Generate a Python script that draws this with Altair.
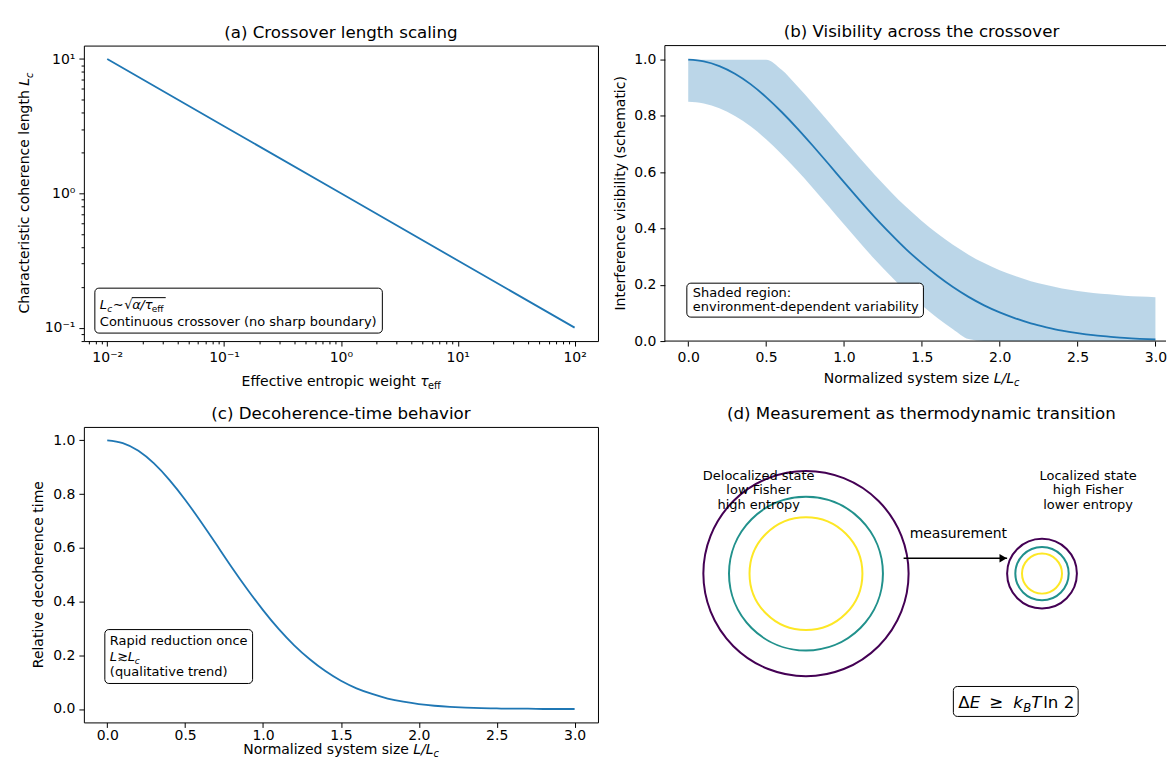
import altair as alt
import pandas as pd

FONT = "DejaVu Sans"
BLUE = "#1f77b4"
VIRIDIS3 = ["#440154", "#21918c", "#fde725"]

# ---------------- data ----------------
# (a) crossover length scaling (log-log)
tau_eff = [0.01, 0.1, 1.0, 10.0, 100.0]
coherence_length = [10.0, 3.162, 1.0, 0.3162, 0.1]
tau_major = [0.01, 0.1, 1.0, 10.0, 100.0]
tau_labels = ["10⁻²", "10⁻¹", "10⁰", "10¹", "10²"]
tau_minor = [0.007, 0.008, 0.009,
             0.02, 0.03, 0.04, 0.05, 0.06, 0.07, 0.08, 0.09,
             0.2, 0.3, 0.4, 0.5, 0.6, 0.7, 0.8, 0.9,
             2.0, 3.0, 4.0, 5.0, 6.0, 7.0, 8.0, 9.0,
             20.0, 30.0, 40.0, 50.0, 60.0, 70.0, 80.0, 90.0]
lc_major = [0.1, 1.0, 10.0]
lc_labels = ["10⁻¹", "10⁰", "10¹"]
lc_minor = [0.08, 0.09,
            0.2, 0.3, 0.4, 0.5, 0.6, 0.7, 0.8, 0.9,
            2.0, 3.0, 4.0, 5.0, 6.0, 7.0, 8.0, 9.0]

# (b), (c) normalized system size L/Lc
system_size = [0.0, 0.1, 0.2, 0.3, 0.4, 0.5, 0.6, 0.7, 0.8, 0.9, 1.0,
               1.1, 1.2, 1.3, 1.4, 1.5, 1.6, 1.7, 1.8, 1.9, 2.0,
               2.1, 2.2, 2.3, 2.4, 2.5, 2.6, 2.7, 2.8, 2.9, 3.0]
visibility = [1.000, 0.994, 0.977, 0.950, 0.913, 0.867, 0.814, 0.756, 0.694, 0.630, 0.565,
              0.501, 0.439, 0.381, 0.326, 0.277, 0.232, 0.192, 0.157, 0.127, 0.102,
              0.081, 0.063, 0.049, 0.037, 0.028, 0.021, 0.016, 0.011, 0.008, 0.006]
visibility_upper = [1.000, 1.000, 1.000, 1.000, 1.000, 1.000, 0.964, 0.906, 0.844, 0.780, 0.715,
                    0.651, 0.589, 0.531, 0.476, 0.427, 0.382, 0.342, 0.307, 0.277, 0.252,
                    0.231, 0.213, 0.199, 0.187, 0.178, 0.171, 0.166, 0.161, 0.158, 0.156]
visibility_lower = [0.850, 0.844, 0.827, 0.800, 0.763, 0.717, 0.664, 0.606, 0.544, 0.480, 0.415,
                    0.351, 0.289, 0.231, 0.176, 0.127, 0.082, 0.042, 0.007, 0.000, 0.000,
                    0.000, 0.000, 0.000, 0.000, 0.000, 0.000, 0.000, 0.000, 0.000, 0.000]
decoherence_time = [1.000, 0.990, 0.961, 0.914, 0.852, 0.779, 0.698, 0.613, 0.527, 0.445, 0.368,
                    0.298, 0.237, 0.185, 0.141, 0.105, 0.077, 0.056, 0.039, 0.027, 0.018,
                    0.012, 0.008, 0.005, 0.003, 0.002, 0.001, 0.001, 0.000, 0.000, 0.000]
lin_ticks = [0.0, 0.5, 1.0, 1.5, 2.0, 2.5, 3.0]
y_ticks = [0.0, 0.2, 0.4, 0.6, 0.8, 1.0]

# (d) schematic states (data units of panel d)
state_names = ["delocalized", "localized"]
state_cx = [0.0, 4.6]
state_cy = [0.0, 0.0]
contour_levels = ["outer", "middle", "inner"]
radii_delocalized = [2.0, 1.5, 1.1]
radii_localized = [0.68, 0.52, 0.39]
arrow_x = [2.0, 3.92]
arrow_y = [0.3, 0.3]

# ---------------- layout ----------------
W_L, W_R, H = 515, 502, 296
PXU = 51.4  # pixels per data unit in panel (d)
D_X = [-2.75, -2.75 + W_R / PXU]
D_Y = [-2.9, -2.9 + H / PXU]

ONE = pd.DataFrame({"k": [0]})

WID = {' ': .318, 'a': .613, 'b': .635, 'c': .550, 'd': .635, 'e': .615, 'f': .352,
       'g': .635, 'h': .634, 'i': .278, 'l': .278, 'm': .974, 'n': .634, 'o': .612,
       'p': .635, 'r': .411, 's': .521, 't': .392, 'u': .634, 'v': .592, 'w': .818,
       'y': .592, 'z': .525, 'C': .698, 'E': .632, 'N': .748, 'L': .557, 'T': .611,
       'B': .686, 'R': .695, 'I': .295, '(': .390, ')': .390, '/': .337, '-': .361,
       'τ': .55, 'α': .659}


def tw(s, size):
    return sum(WID.get(ch, 0.6) for ch in s) * size


def txt(text, x, y, size=13, angle=0, align="left", baseline="alphabetic",
        dx=0, dy=0, italic=False, color="black"):
    kw = dict(text=text, font=FONT, fontSize=size, align=align,
              baseline=baseline, color=color)
    if angle:
        kw["angle"] = angle
    if dx:
        kw["dx"] = dx
    if dy:
        kw["dy"] = dy
    if italic:
        kw["fontStyle"] = "italic"
    return alt.Chart(ONE).mark_text(**kw).encode(x=alt.value(x), y=alt.value(y))


def rich_centered(pieces, x, y, angle=0):
    """pieces: (text, size, italic, dy); first piece right-aligned before the math part."""
    widths = [tw(p[0], p[1]) for p in pieces]
    total = sum(widths)
    start = -total / 2
    t0, s0, i0, d0 = pieces[0]
    out = [txt(t0.rstrip(), x, y, size=s0, italic=i0, dy=d0,
               dx=start + tw(t0.rstrip(), s0), align="right", angle=angle)]
    cum = start + widths[0]
    for (t, s, it, dy), w in zip(pieces[1:], widths[1:]):
        out.append(txt(t, x, y, size=s, italic=it, dy=dy, dx=cum, align="left", angle=angle))
        cum += w
    return out


def pieces_at(pieces, x, y):
    """pieces: (text, dx, size, italic, dy) left aligned."""
    return [txt(t, x, y, size=s, italic=it, dy=dy, dx=dx) for (t, dx, s, it, dy) in pieces]


def box(x1, x2, y1, y2):
    return alt.Chart(ONE).mark_rect(fill="white", stroke="black", strokeWidth=1,
                                    cornerRadius=4).encode(
        x=alt.value(x1), x2=alt.value(x2), y=alt.value(y1), y2=alt.value(y2))


def hline(x1, x2, y, width=1):
    return alt.Chart(ONE).mark_rule(color="black", strokeWidth=width).encode(
        x=alt.value(x1), x2=alt.value(x2), y=alt.value(y))


def vline(x, y1, y2, width=1):
    return alt.Chart(ONE).mark_rule(color="black", strokeWidth=width).encode(
        x=alt.value(x), y=alt.value(y1), y2=alt.value(y2))


def label_expr(major, labels):
    parts = [f"datum.value == {m} ? '{l}'" for m, l in zip(major, labels)]
    return " : ".join(parts) + " : ''"


def tick_cond(major):
    arr = ", ".join(str(m) for m in major)
    return {"condition": {"test": f"indexof([{arr}], datum.value) >= 0", "value": 5},
            "value": 2.8}


def title(t, dx=0):
    kw = dict(font=FONT, fontSize=16.7, fontWeight="normal",
              anchor="middle", frame="group", offset=4, color="black")
    if dx:
        kw["dx"] = dx
    return alt.TitleParams(t, **kw)


# ---------------- panel (a) ----------------
df_a = pd.DataFrame({"tau": tau_eff, "Lc": coherence_length})
line_a = alt.Chart(df_a).mark_line(color=BLUE, strokeWidth=1.8).encode(
    x=alt.X("tau:Q",
            scale=alt.Scale(type="log", domain=[10 ** -2.2, 10 ** 2.2], nice=False),
            axis=alt.Axis(values=sorted(tau_major + tau_minor),
                          labelExpr=label_expr(tau_major, tau_labels),
                          tickSize=tick_cond(tau_major), title=None)),
    y=alt.Y("Lc:Q",
            scale=alt.Scale(type="log", domain=[10 ** -1.1, 10 ** 1.1], nice=False),
            axis=alt.Axis(values=sorted(lc_major + lc_minor),
                          labelExpr=label_expr(lc_major, lc_labels),
                          tickSize=tick_cond(lc_major), title=None)),
)
a_layers = [line_a, box(11, 299, 243, 288)]
a_layers += pieces_at([("L", 0, 13, True, 0), ("c", 7.5, 9.1, True, 3),
                       ("∼", 13, 13, False, 0), ("√", 24.5, 13, False, 0),
                       ("α", 32.5, 13, True, 0), ("/", 40.5, 13, True, 0),
                       ("τ", 45, 13, True, 0), ("eff", 52, 9.1, False, 3)], 16, 264)
a_layers.append(hline(48, 82, 252.5))
a_layers.append(txt("Continuous crossover (no sharp boundary)", 16, 281))
a_layers += rich_centered([("Effective entropic weight ", 14, False, 0),
                           ("τ", 14, True, 0), ("eff", 9.8, False, 3.5)], W_L / 2, 341)
a_layers += rich_centered([("Characteristic coherence length ", 14, False, 0),
                           ("L", 14, True, 0), ("c", 9.8, True, 3.5)], -54.5, H / 2, angle=270)
panel_a = alt.layer(*a_layers).properties(width=W_L, height=H,
                                          title=title("(a) Crossover length scaling"))

# ---------------- panel (b) ----------------
df_b = pd.DataFrame({"s": system_size, "v": visibility,
                     "lo": visibility_lower, "hi": visibility_upper})
xs_b = alt.Scale(domain=[-0.15, -0.15 + W_R / 156.0], nice=False, zero=False)
xs_c = alt.Scale(domain=[-0.15, 3.15], nice=False, zero=False)
band_b = alt.Chart(df_b).mark_area(color=BLUE, opacity=0.3, interpolate="monotone").encode(
    x=alt.X("s:Q", scale=xs_b, axis=alt.Axis(values=lin_ticks, format=".1f", title=None)),
    y=alt.Y("lo:Q", scale=alt.Scale(domain=[0, 1.05], nice=False, zero=False),
            axis=alt.Axis(values=y_ticks, format=".1f", title=None)),
    y2="hi:Q",
)
line_b = alt.Chart(df_b).mark_line(color=BLUE, strokeWidth=1.8, interpolate="natural").encode(
    x="s:Q", y="v:Q")
b_layers = [band_b, line_b,
            hline(0, W_R, 0), hline(0, W_R, H), vline(0, 0, H),
            box(22, 259, 238, 272),
            txt("Shaded region:", 28, 252),
            txt("environment-dependent variability", 28, 266)]
b_layers += rich_centered([("Normalized system size ", 14, False, 0),
                           ("L/L", 14, True, 0), ("c", 9.8, True, 3.5)], 257, 338)
b_layers.append(txt("Interference visibility (schematic)", -39.5, H / 2, size=14,
                    angle=270, align="center"))
panel_b = alt.layer(*b_layers).properties(
    width=W_R, height=H, view=alt.ViewBackground(stroke="transparent"),
    title=title("(b) Visibility across the crossover", dx=6))

# ---------------- panel (c) ----------------
df_c = pd.DataFrame({"s": system_size, "t": decoherence_time})
line_c = alt.Chart(df_c).mark_line(color=BLUE, strokeWidth=1.8, interpolate="natural").encode(
    x=alt.X("s:Q", scale=xs_c,
            axis=alt.Axis(values=lin_ticks, format=".1f", title=None, labelPadding=1)),
    y=alt.Y("t:Q", scale=alt.Scale(domain=[-0.05, 1.05], nice=False, zero=False),
            axis=alt.Axis(values=y_ticks, format=".1f", title=None)),
)
c_layers = [line_c, box(21, 169, 203, 257),
            txt("Rapid reduction once", 26, 218),
            txt("(qualitative trend)", 26, 250)]
c_layers += pieces_at([("L", 0, 13, True, 0), ("≳", 7.5, 13, False, 0),
                       ("L", 18, 13, True, 0), ("c", 25, 9.1, True, 3)], 26, 234)
c_layers += rich_centered([("Normalized system size ", 14, False, 0),
                           ("L/L", 14, True, 0), ("c", 9.8, True, 2.5)], W_L / 2, 328)
c_layers.append(txt("Relative decoherence time", -41, H / 2, size=14, angle=270, align="center"))
panel_c = alt.layer(*c_layers).properties(width=W_L, height=H,
                                          title=title("(c) Decoherence-time behavior"))

# ---------------- panel (d) ----------------
rows = []
for name, cx, cy, radii in zip(state_names, state_cx, state_cy,
                               [radii_delocalized, radii_localized]):
    for lev, r in zip(contour_levels, radii):
        rows.append({"state": name, "cx": cx, "cy": cy, "r": r, "level": lev})
df_d = pd.DataFrame(rows)
xs_d = alt.Scale(domain=D_X, nice=False, zero=False)
ys_d = alt.Scale(domain=D_Y, nice=False, zero=False)
circles = alt.Chart(df_d).transform_calculate(r2="datum.r * datum.r").mark_point(
    shape="circle", filled=False, strokeWidth=2, opacity=1).encode(
    x=alt.X("cx:Q", scale=xs_d, axis=None),
    y=alt.Y("cy:Q", scale=ys_d, axis=None),
    size=alt.Size("r2:Q", scale=alt.Scale(type="linear", domain=[0, 1],
                                          range=[0, 4 * PXU ** 2]), legend=None),
    color=alt.Color("level:N", scale=alt.Scale(domain=contour_levels, range=VIRIDIS3),
                    legend=None),
)
df_arrow = pd.DataFrame({"x0": [arrow_x[0]], "x1": [arrow_x[1]], "y": [arrow_y[0]]})
arrow_line = alt.Chart(df_arrow).mark_rule(color="black", strokeWidth=1.5).encode(
    x=alt.X("x0:Q", scale=xs_d, axis=None), x2="x1:Q",
    y=alt.Y("y:Q", scale=ys_d, axis=None), xOffset=alt.value(-5))
arrow_head = alt.Chart(df_arrow).mark_point(shape="triangle-right", filled=True,
                                            color="black", size=70, opacity=1).encode(
    x=alt.X("x1:Q", scale=xs_d, axis=None), y=alt.Y("y:Q", scale=ys_d, axis=None),
    xOffset=alt.value(-4))
d_layers = [circles, arrow_line, arrow_head,
            txt("measurement", 294, 107, size=14, align="center", baseline="middle")]
for i, line in enumerate(["Delocalized state", "low Fisher", "high entropy"]):
    d_layers.append(txt(line, 94, 49 + 14.5 * i, size=13, align="center", baseline="middle"))
for i, line in enumerate(["Localized state", "high Fisher", "lower entropy"]):
    d_layers.append(txt(line, 424, 49 + 14.5 * i, size=13, align="center", baseline="middle"))
d_layers.append(box(289, 414, 260, 290))
d_layers += pieces_at([("Δ", 0, 16.7, False, 0), ("E", 11.4, 16.7, True, 0),
                       ("≥", 31, 16.7, False, 0), ("k", 55, 16.7, True, 0),
                       ("B", 65, 11.7, True, 4), ("T", 73, 16.7, True, 0),
                       ("ln 2", 85, 16.7, False, 0)], 294, 282)
panel_d = alt.layer(*d_layers).properties(
    width=W_R, height=H, view=alt.ViewBackground(stroke="transparent"),
    title=title("(d) Measurement as thermodynamic transition", dx=6))

chart = alt.concat(panel_a, panel_b, panel_c, panel_d, columns=2,
                   spacing=alt.RowColnumber(row=86, column=67), bounds="flush").properties(
    padding={"left": 10, "top": 15, "right": 0, "bottom": 0}
).configure_view(stroke="black", strokeWidth=1).configure_axis(
    labelFont=FONT, labelFontSize=14, labelColor="black", tickColor="black",
    tickWidth=1, tickSize=5, labelPadding=4, domain=False, grid=False,
    labelFlush=False, labelOverlap=False)

chart.save("out.html", embed_options={"renderer": "svg", "actions": False})
